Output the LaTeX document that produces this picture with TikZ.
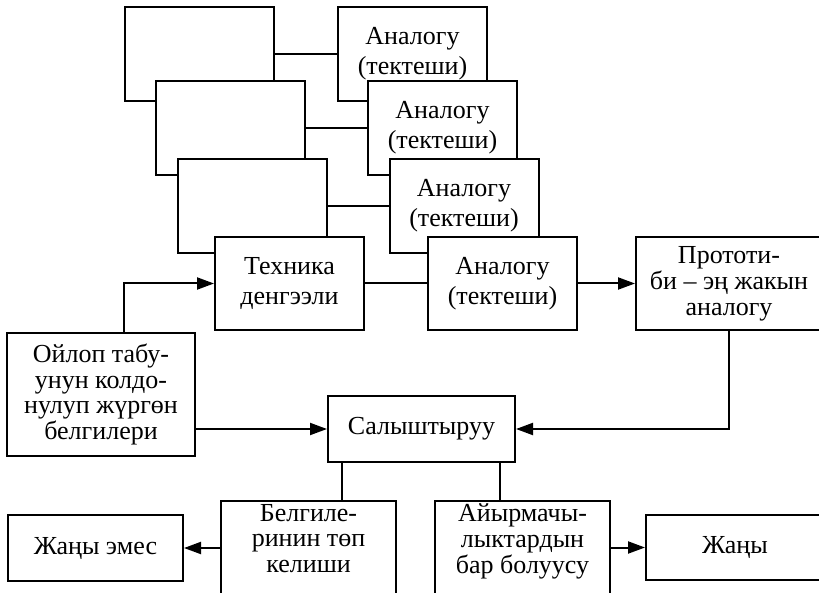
\documentclass[tikz,border=0pt]{standalone}
\usepackage{fontspec}
\setmainfont{Liberation Serif}
\usetikzlibrary{arrows.meta, positioning}
\tikzset{
  blk/.style={draw, fill=white, line width=1pt, align=center, inner sep=0pt,
    font=\fontsize{13}{12.9}\selectfont},
  twoline/.style={font=\fontsize{13}{15}\selectfont},
  tall/.style={anchor=north, inner ysep=1.5pt, text depth=40pt, minimum width=87.5pt},
  arr/.style={line width=1pt, -{Triangle[length=8.5pt,width=6pt]}},
  ln/.style={line width=1pt}
}
\begin{document}
\begin{tikzpicture}[x=0.5pt, y=-0.5pt]
    \path[use as bounding box, clip] (0,0) rectangle (819,593);
    \foreach \i/\lx/\rx/\y in {1/199.5/412.5/54, 2/230/442.5/128, 3/252.5/464/206} {
      \node[blk, minimum width=74.5pt, minimum height=47pt] (lev\i) at (\lx,\y) {};
      \node[blk, twoline, minimum width=74.5pt, minimum height=47pt] (an\i) at (\rx,\y) {Аналогу\\(тектеши)};
      \draw[ln] (lev\i.east) -- (an\i.west);
    }
    \node[blk, twoline, minimum width=74.5pt, minimum height=46.5pt] (tech) at (289.5,283.5) {Техника\\денгээли};
    \node[blk, twoline, minimum width=74.5pt, minimum height=46.5pt] (an4) at (502.5,283.5) {Аналогу\\(тектеши)};
    \draw[ln] (tech.east) -- (an4.west);
    \node[blk, minimum width=93pt, minimum height=46.5pt] (proto) at (729,283.5) {Прототи-\\би – эң жакын\\аналогу};
    \node[blk, minimum width=94pt, minimum height=61.5pt] (oylop) at (101,394.5) {Ойлоп табу-\\унун колдо-\\нулуп жүргөн\\белгилери};
    \node[blk, minimum width=93.5pt, minimum height=33pt] (salysh) at (421.5,429) {Салыштыруу};
    \node[blk, tall] (belg) at (308.5,500) {Белгиле-\\ринин төп\\келиши};
    \node[blk, tall] (ayyrm) at (522.5,500) {Айырмачы-\\лыктардын\\бар болуусу};
    \node[blk, minimum width=87.5pt, minimum height=33pt] (nonew) at (95.5,548) {Жаңы эмес};
    \node[blk, minimum width=89pt, minimum height=32.5pt] (new) at (735,547.5) {Жаңы};
    \draw[arr] ([xshift=11.5pt]oylop.north) |- (tech.west);
    \draw[arr] (an4.east) -- (proto.west);
    \draw[arr] (oylop.east |- salysh.west) -- (salysh.west);
    \draw[arr] (proto.south) |- (salysh.east);
    \draw[ln] ([xshift=-40pt]salysh.south) -- ([xshift=-40pt]salysh.south |- belg.north);
    \draw[ln] ([xshift=39pt]salysh.south) -- ([xshift=39pt]salysh.south |- ayyrm.north);
    \draw[arr] (belg.west |- nonew.east) -- (nonew.east);
    \draw[arr] (ayyrm.east |- new.west) -- (new.west);
\end{tikzpicture}
\end{document}
